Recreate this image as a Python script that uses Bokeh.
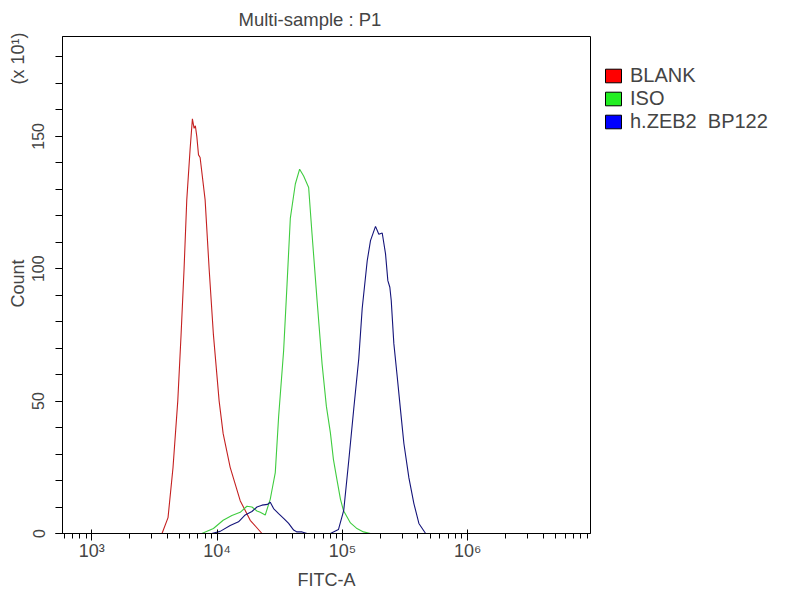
from bokeh.plotting import figure
from bokeh.models import Range1d, FixedTicker, SingleIntervalTicker, Legend, LegendItem
from bokeh.embed import file_html
from bokeh.resources import INLINE

FONT = "Liberation Sans"

# FITC-A intensity (x) and Count in units of x10^1 (y)
blank_x = [2911, 3631, 4055, 4446, 4849, 5152, 5445, 5722, 6081, 6346, 6546, 6700, 6880,
           7100, 7311, 8017, 8630, 9341, 10375, 11169, 12706, 15276, 18365, 22784]
blank_y = [0, 0, 6, 25, 50, 75, 100, 126, 145, 156.6, 153, 154, 150,
           143, 142, 126, 100, 75, 50, 37.7, 25, 12.4, 5, 0]

iso_x = [7545, 9341, 11169, 13112, 15276, 17283, 18950, 20780, 22080, 24210, 26550, 27540,
         29110, 30940, 33930, 36120, 38370, 42070, 45540, 49020, 53750, 57220, 62750,
         68800, 74470, 80170, 84720, 90700, 96390, 101860, 115880, 129420, 147230, 167490]
iso_y = [0, 1.9, 5, 6.8, 8, 10.3, 10, 8.5, 8, 7, 13, 17,
         23, 44, 69, 94, 119, 132, 137.6, 135, 130.7, 113, 88,
         64, 48, 38, 28, 20, 13, 8.7, 4, 2, 0.6, 0]

zeb2_x = [9070, 10570, 12710, 14810, 16750, 18950, 20780, 22780, 25260, 26550, 28210, 30940,
          33930, 37200, 40780, 43420, 47610, 52200, 80170, 92900, 102400, 112300, 123100,
          135000, 143800, 157700, 167500, 183650, 195200, 207800, 220800, 230400, 239000,
          245200, 257300, 274000, 291100, 309400, 339300, 371900, 407700, 461300]
zeb2_y = [0, 0.8, 3, 4.4, 7, 8.3, 10, 10.7, 11, 11.8, 9.4, 7.5,
          5.7, 3.8, 1.3, 0.6, 0.6, 0, 0, 1.5, 8.7, 27.5, 47,
          66, 85, 103, 110.6, 116, 113, 113.5, 105.6, 95.5, 93,
          88, 71.7, 59, 46.4, 34, 21, 11.3, 3.8, 0]

series_names = ["BLANK", "ISO", "h.ZEB2  BP122"]
line_colors = ["#c42020", "#3fcc3f", "#14147a"]
swatch_colors = ["#ff0000", "#22ee22", "#0000ff"]

major_x = [1e3, 1e4, 1e5, 1e6]
major_x_labels = ["10\u00b3", "10\u2074", "10\u2075", "10\u2076"]

y_label = "Count"
y_scale_note = "(x 10\u00b9)"

p = figure(x_axis_type="log",
           x_range=Range1d(583, 9.55e6), y_range=Range1d(0, 187.7),
           frame_width=528, frame_height=497,
           min_border_left=62, min_border_top=36, min_border_right=200, min_border_bottom=57,
           output_backend="svg", toolbar_location=None,
           background_fill_color="white", border_fill_color="white")

p.title.text = "Multi-sample : P1"
p.title.text_font = FONT
p.title.text_font_size = "18.5px"
p.title.text_font_style = "normal"
p.title.align = "left"
p.title.offset = 176
p.title.standoff = 13

p.xgrid.visible = False
p.ygrid.visible = False
p.outline_line_color = "black"
p.outline_line_width = 1

for xs, ys, c in zip([blank_x, iso_x, zeb2_x], [blank_y, iso_y, zeb2_y], line_colors):
    p.line(xs, ys, line_color=c, line_width=1.1)

nan = float("nan")
swatches = []
for c in swatch_colors:
    swatches.append(p.quad(left=[nan], right=[nan], top=[nan], bottom=[nan],
                           fill_color=c, line_color="black", line_width=1))

legend = Legend(items=[LegendItem(label=n, renderers=[r]) for n, r in zip(series_names, swatches)],
                location="top_left", margin=13, padding=0, spacing=0,
                glyph_width=20, glyph_height=17, label_height=17, label_standoff=7,
                label_text_font=FONT, label_text_font_size="20px",
                title=" ", title_text_font_size="13px", title_standoff=0,
                border_line_alpha=0, background_fill_alpha=0)
p.add_layout(legend, "right")

xa = p.xaxis[0]
xa.ticker = FixedTicker(ticks=major_x,
                        minor_ticks=[m * 10 ** e for e in range(2, 7) for m in range(2, 10)])
xa.major_label_overrides = dict(zip(major_x, major_x_labels))
xa.axis_label = "FITC-A"
xa.axis_label_text_font = FONT
xa.axis_label_text_font_size = "18px"
xa.axis_label_text_font_style = "normal"
xa.axis_label_standoff = 6
xa.major_label_text_font = FONT
xa.major_label_text_font_size = "18px"
xa.major_label_standoff = 0
xa.major_tick_in = 4
xa.major_tick_out = 7
xa.minor_tick_in = 0
xa.minor_tick_out = 5
xa.axis_line_color = "black"

# "Count" centred on the axis, with the scale note further up the same column
NB = "\u00a0"
ya = p.yaxis[0]
ya.ticker = SingleIntervalTicker(interval=50, num_minor_ticks=5)
ya.axis_label = NB * 46 + y_label + NB * 35 + y_scale_note
ya.axis_label_text_font = FONT
ya.axis_label_text_font_size = "18px"
ya.axis_label_text_font_style = "normal"
ya.axis_label_standoff = 2
ya.major_label_text_font = FONT
ya.major_label_text_font_size = "16px"
ya.major_label_orientation = "vertical"
ya.major_label_standoff = 11
ya.major_tick_in = 0
ya.major_tick_out = 7
ya.minor_tick_in = 0
ya.minor_tick_out = 7
ya.axis_line_color = "black"

open("out.html", "w").write(file_html(p, INLINE))
